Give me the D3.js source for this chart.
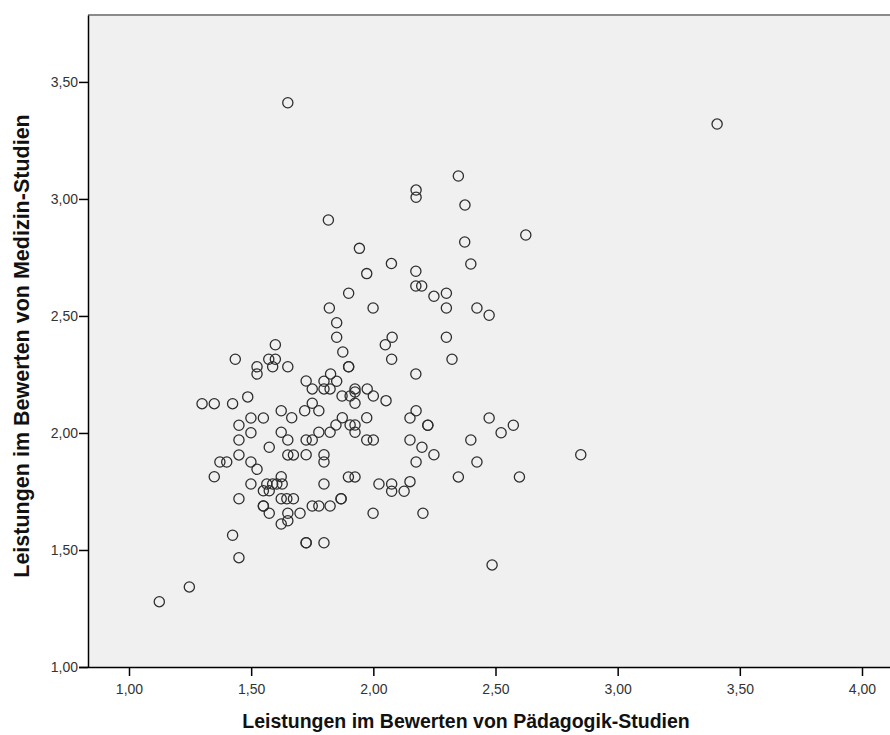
<!DOCTYPE html>
<html>
<head>
<meta charset="utf-8">
<script src="https://cdn.jsdelivr.net/npm/d3@7"></script>
<style>
  html, body { margin: 0; padding: 0; background: #ffffff; }
  svg { display: block; }
</style>
</head>
<body>
<svg id="chart" width="890" height="735"></svg>
<script>
// ---- data (Pädagogik x, Medizin y) ----
const padagogik = [
  1.650, 3.407, 2.348, 2.175, 2.175, 2.375, 1.816, 2.624, 2.374, 1.943,
  2.074, 2.399, 1.973, 2.174, 2.174, 2.198, 2.248, 2.299, 1.899, 1.820,
  1.999, 2.299, 2.424, 2.474, 1.850, 1.850, 2.077, 2.049, 2.299, 1.875,
  1.899, 1.899, 2.075, 2.322, 2.174, 1.825, 1.599, 1.435, 1.572, 1.599,
  1.524, 1.524, 1.588, 1.650, 1.725, 1.798, 1.850, 1.750, 1.798, 1.823,
  1.925, 1.975, 1.872, 1.905, 1.925, 2.000, 2.052, 1.750, 1.719, 1.777,
  1.925, 1.873, 1.973, 1.847, 1.905, 1.925, 1.925, 1.823, 1.777, 1.725,
  1.750, 1.973, 2.000, 2.175, 2.150, 2.223, 2.223, 2.150, 2.199, 2.248,
  2.175, 1.725, 1.798, 1.798, 1.898, 1.925, 1.798, 2.023, 2.075, 2.075,
  2.126, 2.150, 1.868, 1.868, 1.750, 1.777, 1.823, 1.700, 1.999, 2.203,
  1.725, 1.725, 1.798, 2.474, 2.573, 2.523, 2.399, 2.424, 2.348, 2.598,
  2.486, 2.849, 1.299, 1.349, 1.424, 1.486, 1.623, 1.666, 1.499, 1.550,
  1.450, 1.450, 1.499, 1.623, 1.650, 1.574, 1.450, 1.372, 1.400, 1.499,
  1.524, 1.650, 1.673, 1.349, 1.499, 1.623, 1.564, 1.588, 1.605, 1.627,
  1.550, 1.574, 1.450, 1.623, 1.646, 1.673, 1.550, 1.550, 1.574, 1.650,
  1.650, 1.623, 1.424, 1.450, 1.247, 1.124
];
const medizin = [
  3.411, 3.320, 3.098, 3.038, 3.007, 2.974, 2.910, 2.846, 2.816, 2.789,
  2.724, 2.722, 2.681, 2.691, 2.628, 2.628, 2.584, 2.597, 2.597, 2.534,
  2.534, 2.534, 2.534, 2.503, 2.471, 2.409, 2.409, 2.377, 2.409, 2.346,
  2.283, 2.283, 2.315, 2.315, 2.252, 2.252, 2.377, 2.315, 2.315, 2.315,
  2.283, 2.252, 2.283, 2.283, 2.222, 2.221, 2.221, 2.188, 2.188, 2.188,
  2.188, 2.188, 2.158, 2.158, 2.175, 2.158, 2.138, 2.127, 2.095, 2.095,
  2.127, 2.065, 2.065, 2.034, 2.034, 2.034, 2.003, 2.003, 2.003, 1.970,
  1.970, 1.970, 1.970, 2.095, 2.064, 2.033, 2.033, 1.970, 1.939, 1.907,
  1.876, 1.907, 1.907, 1.876, 1.812, 1.812, 1.782, 1.782, 1.782, 1.751,
  1.751, 1.792, 1.719, 1.719, 1.688, 1.688, 1.688, 1.657, 1.657, 1.657,
  1.531, 1.531, 1.531, 2.064, 2.033, 2.001, 1.970, 1.876, 1.812, 1.812,
  1.436, 1.907, 2.125, 2.125, 2.125, 2.154, 2.095, 2.065, 2.064, 2.064,
  2.033, 1.970, 2.001, 2.003, 1.970, 1.939, 1.906, 1.876, 1.876, 1.876,
  1.845, 1.906, 1.906, 1.813, 1.782, 1.813, 1.782, 1.782, 1.782, 1.782,
  1.753, 1.753, 1.719, 1.719, 1.719, 1.719, 1.688, 1.688, 1.657, 1.657,
  1.625, 1.611, 1.563, 1.467, 1.342, 1.279
];
const xTicks = [1.0, 1.5, 2.0, 2.5, 3.0, 3.5, 4.0];
const yTicks = [1.0, 1.5, 2.0, 2.5, 3.0, 3.5];
const xDomain = [0.8322, 4.1146];
const yDomain = [1.0, 3.786];
const xTitle = "Leistungen im Bewerten von Pädagogik-Studien";
const yTitle = "Leistungen im Bewerten von Medizin-Studien";

// ---- layout ----
const plot = { left: 88, right: 890, top: 15, bottom: 667 };
const svg = d3.select("#chart");

const x = d3.scaleLinear().domain(xDomain).range([plot.left, plot.right]);
const y = d3.scaleLinear().domain(yDomain).range([plot.bottom, plot.top]);

const fmt = d => d3.format(".2f")(d).replace(".", ",");
const FONT = "Arial, 'Liberation Sans', sans-serif";

// plot background
svg.append("rect")
  .attr("x", plot.left).attr("y", plot.top)
  .attr("width", plot.right - plot.left + 2).attr("height", plot.bottom - plot.top)
  .attr("fill", "#f0f0f0");

// top border
svg.append("line")
  .attr("x1", plot.left).attr("x2", plot.right + 2)
  .attr("y1", plot.top).attr("y2", plot.top)
  .attr("stroke", "#8a8a8a").attr("stroke-width", 1.8);

// points
const pts = padagogik.map((v, i) => ({ x: v, y: medizin[i] }));
svg.append("g").selectAll("circle").data(pts).join("circle")
  .attr("cx", d => x(d.x)).attr("cy", d => y(d.y))
  .attr("r", 5.1)
  .attr("fill", "none")
  .attr("stroke", "#2e2e2e")
  .attr("stroke-width", 1.3);

// axes
const xAxis = d3.axisBottom(x).tickValues(xTicks).tickFormat(fmt).tickSize(9).tickSizeOuter(0);
const yAxis = d3.axisLeft(y).tickValues(yTicks).tickFormat(fmt).tickSize(9).tickSizeOuter(0);

const gx = svg.append("g").attr("transform", `translate(0,${plot.bottom})`).call(xAxis);
const gy = svg.append("g").attr("transform", `translate(${plot.left},0)`).call(yAxis);

[gx, gy].forEach(g => {
  g.select(".domain").attr("stroke", "#000").attr("stroke-width", 1.5);
  g.selectAll(".tick line").attr("stroke", "#000").attr("stroke-width", 1.5);
  g.selectAll(".tick text")
    .attr("fill", "#333")
    .style("font-family", FONT)
    .style("font-size", "14px");
});
gx.select(".domain").attr("d", `M${plot.left - 9},0.5H${plot.right + 2}`);
gx.selectAll(".tick text").attr("y", 27).attr("dy", 0);
gy.selectAll(".tick text").attr("x", -10);

// titles
svg.append("text")
  .attr("x", 466).attr("y", 728)
  .attr("text-anchor", "middle")
  .style("font-family", FONT)
  .style("font-weight", "bold")
  .style("font-size", "19.5px")
  .attr("fill", "#111")
  .text(xTitle);

svg.append("text")
  .attr("transform", "translate(29,346) rotate(-90)")
  .attr("text-anchor", "middle")
  .style("font-family", FONT)
  .style("font-weight", "bold")
  .style("font-size", "21.5px")
  .attr("fill", "#111")
  .text(yTitle);
</script>
</body>
</html>
